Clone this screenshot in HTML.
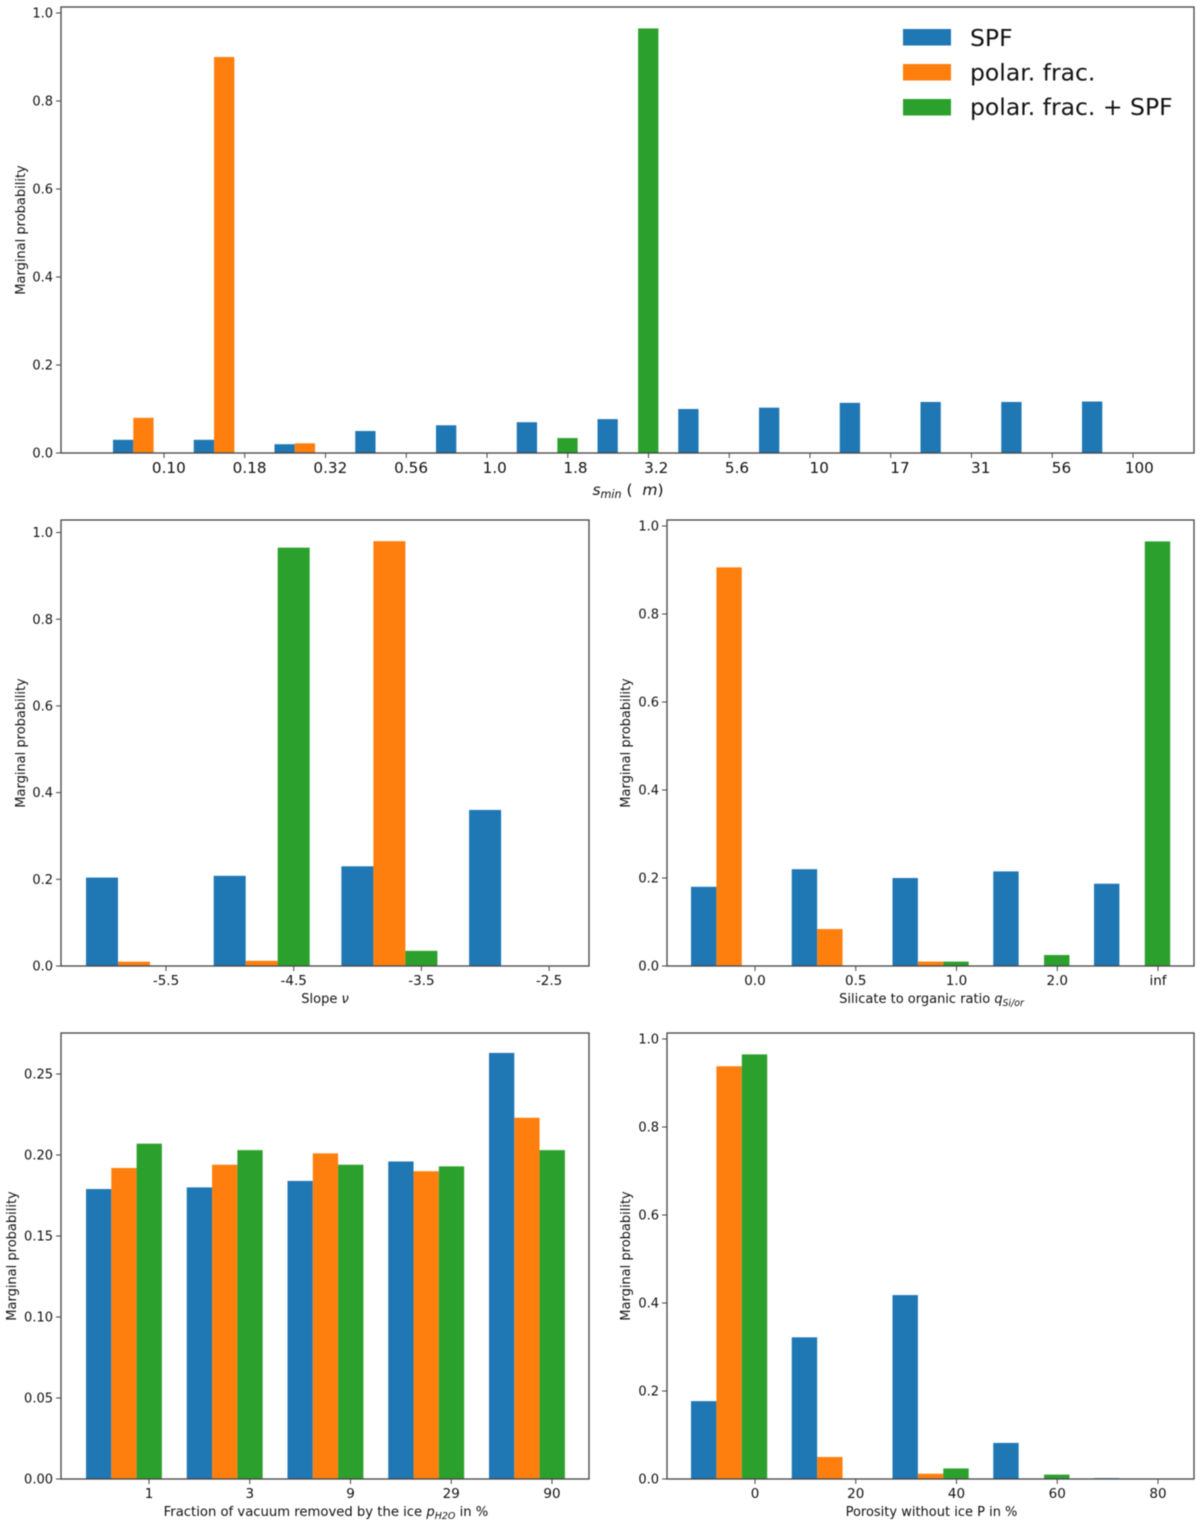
<!DOCTYPE html>
<html lang="en">
<head>
<meta charset="utf-8">
<title>Marginal probability charts</title>
<style>
html,body{margin:0;padding:0;background:#fff;}
#figure{display:block;width:1200px;height:1524px;filter:blur(0.45px);}
text{font-family:"DejaVu Sans","Liberation Sans",sans-serif;fill:#111;}
</style>
</head>
<body>
<svg id="figure" xmlns="http://www.w3.org/2000/svg" width="1200" height="1524" viewBox="0 0 1200 1524"></svg>
<script>
// ---- Data ----
const seriesNames = ['SPF', 'polar. frac.', 'polar. frac. + SPF'];

const sminCategories = ['0.10','0.18','0.32','0.56','1.0','1.8','3.2','5.6','10','17','31','56','100'];
const sminSpf = [0.03,0.03,0.02,0.05,0.063,0.07,0.077,0.1,0.103,0.114,0.116,0.116,0.117];
const sminPolar = [0.08,0.9,0.022,0,0,0,0,0,0,0,0,0,0];
const sminBoth = [0,0,0,0,0,0.034,0.965,0,0,0,0,0,0];
const sminYTicks = [0,0.2,0.4,0.6,0.8,1.0];

const slopeCategories = ['-5.5','-4.5','-3.5','-2.5'];
const slopeSpf = [0.204,0.208,0.23,0.36];
const slopePolar = [0.01,0.012,0.98,0];
const slopeBoth = [0,0.965,0.035,0];
const slopeYTicks = [0,0.2,0.4,0.6,0.8,1.0];

const ratioCategories = ['0.0','0.5','1.0','2.0','inf'];
const ratioSpf = [0.18,0.22,0.2,0.215,0.187];
const ratioPolar = [0.906,0.084,0.01,0,0];
const ratioBoth = [0,0,0.01,0.025,0.965];
const ratioYTicks = [0,0.2,0.4,0.6,0.8,1.0];

const vacuumCategories = ['1','3','9','29','90'];
const vacuumSpf = [0.179,0.18,0.184,0.196,0.263];
const vacuumPolar = [0.192,0.194,0.201,0.19,0.223];
const vacuumBoth = [0.207,0.203,0.194,0.193,0.203];
const vacuumYTicks = [0,0.05,0.10,0.15,0.20,0.25];

const porosityCategories = ['0','20','40','60','80'];
const porositySpf = [0.177,0.322,0.418,0.082,0.002];
const porosityPolar = [0.938,0.05,0.012,0,0];
const porosityBoth = [0.965,0,0.024,0.01,0];
const porosityYTicks = [0,0.2,0.4,0.6,0.8,1.0];

const seriesColors = ['#1f77b4','#ff7f0e','#2ca02c'];
const NS = 'http://www.w3.org/2000/svg';
const fig = document.getElementById('figure');

function mk(parent, tag, props, text) {
  const el = document.createElementNS(NS, tag);
  for (const k in props) el.setAttribute(k, props[k]);
  if (text !== undefined) el.textContent = text;
  parent.appendChild(el);
  return el;
}

function drawPanel(p) {
  const g = mk(fig, 'g', {});
  
  

  const yScale = v => p.bottom - v * p.yUnit;
  const xTick = i => p.tick0 + i * p.tickStep;
  const barLeft = (i, s) => xTick(i) - p.barOffset + s * p.barWidth;

  // bars
  p.series.forEach((vals, s) => {
    vals.forEach((v, i) => {
      const bar = mk(g, 'rect', {
        x: barLeft(i, s).toFixed(2),
        y: yScale(v).toFixed(2),
        width: p.barWidth,
        height: (p.bottom - yScale(v)).toFixed(2),
        fill: seriesColors[s]
      });
      
      
    });
  });

  // frame
  const frame = mk(g, 'rect', {
    x: p.left, y: p.top, width: p.right - p.left, height: p.bottom - p.top,
    fill: 'none', stroke: '#444', 'stroke-width': 1.3
  });
  
  

  // y ticks
  p.yTicks.forEach(v => {
    const y = yScale(v);
    const tick = mk(g, 'line', {x1: p.left - 5, x2: p.left, y1: y, y2: y, stroke: '#444', 'stroke-width': 1});
    
    
    const label = mk(g, 'text', {x: p.left - 8, y: y + 4.6, 'text-anchor': 'end', 'font-size': 13}, v.toFixed(p.yDecimals));
    
    
  });

  // x ticks
  p.categories.forEach((c, i) => {
    const x = xTick(i);
    const tick = mk(g, 'line', {x1: x, x2: x, y1: p.bottom, y2: p.bottom + 5, stroke: '#444', 'stroke-width': 1});
    
    
    const label = mk(g, 'text', {x: x, y: p.bottom + p.xLabelDy, 'text-anchor': 'middle', 'font-size': p.xFont}, c);
    
    
    if (p.labelFit) {
      const w = label.getComputedTextLength();
      label.setAttribute('x', (x + 15 - 0.3 * w).toFixed(2));
    }
  });

  // y title
  const yT = mk(g, 'text', {
    transform: 'translate(' + p.yTitleX + ',' + (p.bottom - 223) + ') rotate(-90)',
    'text-anchor': 'middle', 'font-size': 13
  }, 'Marginal probability');
  
  

  // x title
  const xT = mk(g, 'text', {x: p.xTitleX, y: p.bottom + p.xTitleDy, 'text-anchor': 'middle', 'font-size': p.xTitleFont});
  
  
  p.xTitle.forEach(part => {
    const t = mk(xT, 'tspan', {}, part.t);
    if (part.i) t.setAttribute('font-style', 'italic');
    if (part.sub) {
      t.setAttribute('font-size', p.xTitleFont * 0.72);
      t.setAttribute('dy', 3);
    }
    if (part.up) t.setAttribute('dy', -3);
  });
}

drawPanel({
  name: 'smin', categories: sminCategories, series: [sminSpf, sminPolar, sminBoth], yTicks: sminYTicks, yDecimals: 1,
  left: 61, right: 1194, top: 7, bottom: 453, yUnit: 440,
  tick0: 164, tickStep: 80.75, barOffset: 51, barWidth: 20.3, labelFit: true,
  xFont: 15.2, xLabelDy: 20, yTitleX: 25,
  xTitleX: 628, xTitleDy: 42, xTitleFont: 15.5,
  xTitle: [{t:'s', i:1},{t:'min', i:1, sub:1},{t:' (\u00a0\u00a0', up:1},{t:'m', i:1},{t:')'}]
});

drawPanel({
  name: 'slope', categories: slopeCategories, series: [slopeSpf, slopePolar, slopeBoth], yTicks: slopeYTicks, yDecimals: 1,
  left: 61, right: 589, top: 520, bottom: 966, yUnit: 433.5,
  tick0: 166, tickStep: 127.7, barOffset: 80, barWidth: 32,
  xFont: 13.5, xLabelDy: 19, yTitleX: 25,
  xTitleX: 325, xTitleDy: 37, xTitleFont: 13,
  xTitle: [{t:'Slope '},{t:'ν', i:1}]
});

drawPanel({
  name: 'ratio', categories: ratioCategories, series: [ratioSpf, ratioPolar, ratioBoth], yTicks: ratioYTicks, yDecimals: 1,
  left: 667, right: 1194, top: 520, bottom: 966, yUnit: 440,
  tick0: 755, tickStep: 100.75, barOffset: 64, barWidth: 25.4,
  xFont: 13.5, xLabelDy: 19, yTitleX: 630,
  xTitleX: 931.5, xTitleDy: 37, xTitleFont: 13,
  xTitle: [{t:'Silicate to organic ratio '},{t:'q', i:1},{t:'Si/or', i:1, sub:1}]
});

drawPanel({
  name: 'vacuum', categories: vacuumCategories, series: [vacuumSpf, vacuumPolar, vacuumBoth], yTicks: vacuumYTicks, yDecimals: 2,
  left: 61, right: 589, top: 1033, bottom: 1479, yUnit: 1620,
  tick0: 149, tickStep: 100.75, barOffset: 63, barWidth: 25.3,
  xFont: 13.5, xLabelDy: 19, yTitleX: 16,
  xTitleX: 326, xTitleDy: 37, xTitleFont: 13.2,
  xTitle: [{t:'Fraction of vacuum removed by the ice '},{t:'p', i:1},{t:'H2O', i:1, sub:1},{t:' in %', up:1}]
});

drawPanel({
  name: 'porosity', categories: porosityCategories, series: [porositySpf, porosityPolar, porosityBoth], yTicks: porosityYTicks, yDecimals: 1,
  left: 667, right: 1194, top: 1033, bottom: 1479, yUnit: 440,
  tick0: 755, tickStep: 100.75, barOffset: 64, barWidth: 25.4,
  xFont: 13.5, xLabelDy: 19, yTitleX: 630,
  xTitleX: 931.5, xTitleDy: 37, xTitleFont: 13,
  xTitle: [{t:'Porosity without ice P in %'}]
});

// legend
const legend = mk(fig, 'g', {});


seriesNames.forEach((nm, s) => {
  const y = 29 + s * 35;
  const swatch = mk(legend, 'rect', {x: 903, y: y, width: 48, height: 16.5, fill: seriesColors[s]});
  
  
  const label = mk(legend, 'text', {x: 970, y: 46 + s * 34.6, 'font-size': 23.5}, nm);
  
  
});
</script>
</body>
</html>
